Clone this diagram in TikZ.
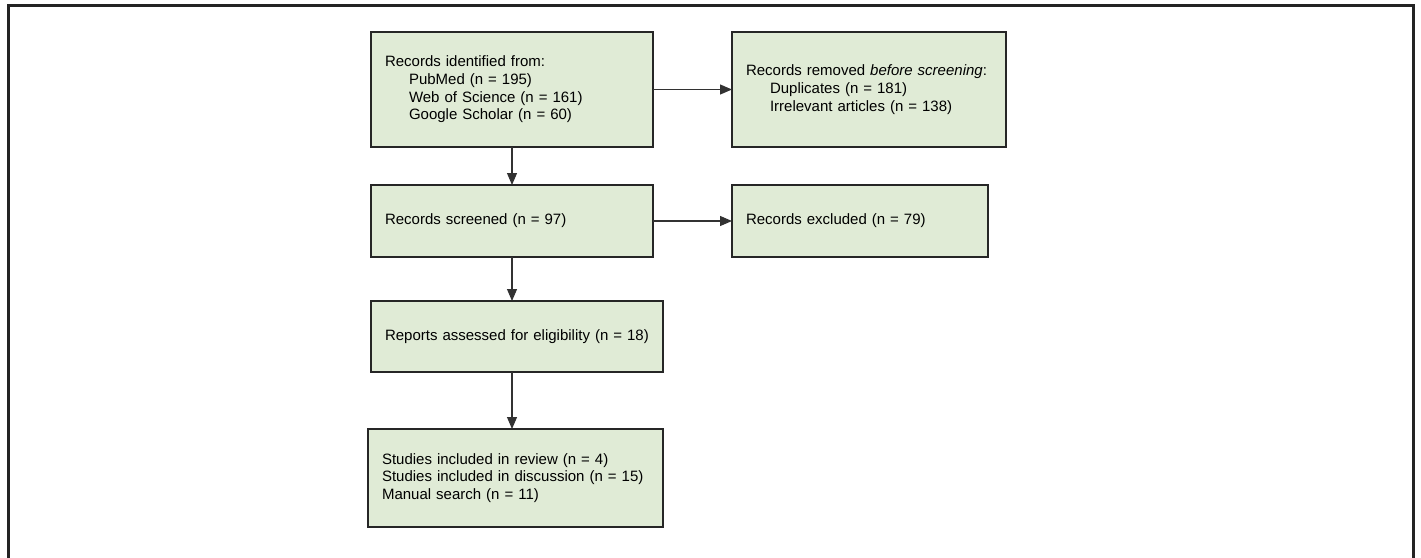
\documentclass[tikz,border=0pt]{standalone}
\usepackage{fontspec}
\setmainfont{Liberation Sans}
\usetikzlibrary{arrows.meta,calc}
\definecolor{boxfill}{RGB}{224,235,214}
\definecolor{frameclr}{RGB}{35,35,35}
\definecolor{arrclr}{RGB}{50,50,50}
\begin{document}
\begin{tikzpicture}[x=1pt,y=-1pt,
  flowbox/.style={draw=black!85,fill=boxfill,line width=1.4pt,rectangle,anchor=north west,
    inner xsep=14pt,inner ysep=0pt,outer sep=0pt,align=left,
    font=\fontsize{15}{17.7}\selectfont},
  flowarrow/.style={draw=arrclr,line width=1.1pt,-{Triangle[length=12pt,width=10pt]}}]
\useasboundingbox (0,0) rectangle (1421,557);
\draw[frameclr,line width=2.4pt] (8.5,560) -- (8.5,5.5) -- (1413.5,5.5) -- (1413.5,560);
\node[flowbox,minimum width=282pt,minimum height=115pt,text width=254pt] (b1) at (371,32)
  {Records identified from:\\\hspace*{24pt}PubMed (n = 195)\\\hspace*{24pt}Web of Science (n = 161)\\\hspace*{24pt}Google Scholar (n = 60)};
\node[flowbox,minimum width=274pt,minimum height=115pt,text width=246pt] (b2) at (732,32)
  {Records removed \textit{before screening}:\\\hspace*{24pt}Duplicates (n = 181)\\\hspace*{24pt}Irrelevant articles (n = 138)};
\node[flowbox,minimum width=282pt,minimum height=72pt,text width=254pt] (b3) at (371,185)
  {Records screened (n = 97)};
\node[flowbox,minimum width=256pt,minimum height=72pt,text width=228pt] (b4) at (732,185)
  {Records excluded (n = 79)};
\node[flowbox,minimum width=292pt,minimum height=71pt,text width=264pt] (b5) at (371,301)
  {Reports assessed for eligibility (n = 18)};
\node[flowbox,minimum width=295pt,minimum height=98pt,text width=267pt] (b6) at (368,429)
  {Studies included in review (n = 4)\\Studies included in discussion (n = 15)\\Manual search (n = 11)};
\draw[flowarrow] (b1.south) -- (b3.north);
\draw[flowarrow] (b3.south) -- (b3.south |- b5.north);
\draw[flowarrow] (b3.south |- b5.south) -- (b3.south |- b6.north);
\draw[flowarrow] (b1.east) -- (b2.west);
\draw[flowarrow] (b3.east) -- (b4.west);
\end{tikzpicture}
\end{document}
